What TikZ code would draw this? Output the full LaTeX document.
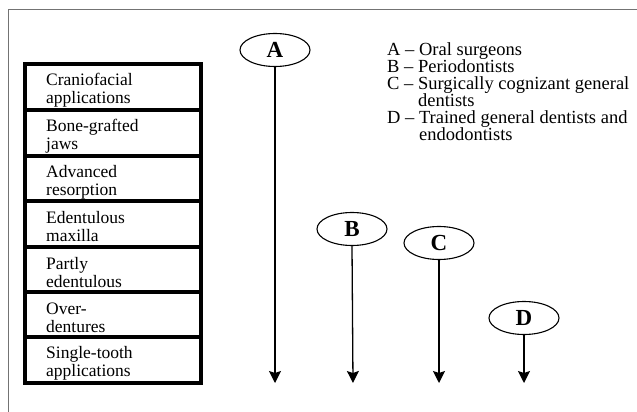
\documentclass[tikz,border=0pt]{standalone}
\usepackage{fontspec}
\setmainfont{Liberation Serif}
\usetikzlibrary{arrows.meta,shapes.geometric}
\begin{document}
\begin{tikzpicture}[x=1pt,y=-1pt,
  frameline/.style={draw=black!55,line width=0.9pt},
  cell/.style={draw=black,line width=3.6pt},
  celltext/.style={anchor=west,align=left,inner sep=0pt,font=\fontsize{17.5}{18}\selectfont},
  grp/.style={ellipse,draw=black,line width=1.1pt,minimum width=70pt,minimum height=33pt,inner sep=0pt,font=\fontsize{23}{23}\selectfont\bfseries},
  arr/.style={line width=1.3pt,-{Stealth[length=12pt,width=12pt,inset=2pt]}},
  legend/.style={anchor=north west,align=left,inner sep=0pt,font=\fontsize{18.5}{17}\selectfont}]
\useasboundingbox (0,0) rectangle (637,412);
% frame (top and left lines)
\draw[frameline] (637,9) -- (8,9) -- (8,412);
% table
\draw[cell] (25,64) rectangle (201,383);
\foreach \yy in {110,156,201,247,292,337} \draw[cell] (25,\yy) -- (201,\yy);
\node[celltext] (r1) at (46,90) {Craniofacial\\applications};
\node[celltext] (r2) at (46,136) {Bone-grafted\\jaws};
\node[celltext] (r3) at (46,182) {Advanced\\resorption};
\node[celltext] (r4) at (46,227) {Edentulous\\maxilla};
\node[celltext] (r5) at (46,273) {Partly\\edentulous};
\node[celltext] (r6) at (46,318) {Over-\\dentures};
\node[celltext] (r7) at (46,363) {Single-tooth\\applications};
% groups
\node[grp] (A) at (275,50) {A};
\node[grp] (B) at (352,229) {B};
\node[grp] (C) at (439,243) {C};
\node[grp] (D) at (524,318) {D};
\coordinate (Ae) at (275,383);
\coordinate (Be) at (353,383);
\coordinate (Ce) at (439,383);
\coordinate (De) at (524,383);
\draw[arr] (A.south) -- (Ae);
\draw[arr] (B.south) -- (Be);
\draw[arr] (C.south) -- (Ce);
\draw[arr] (D.south) -- (De);
% legend
\node[legend] (leg) at (387,42) {A -- Oral surgeons\\
B -- Periodontists\\
C -- Surgically cognizant general\\
\hphantom{C -- }dentists\\
D -- Trained general dentists and\\
\hphantom{D -- }endodontists};
\end{tikzpicture}
\end{document}
